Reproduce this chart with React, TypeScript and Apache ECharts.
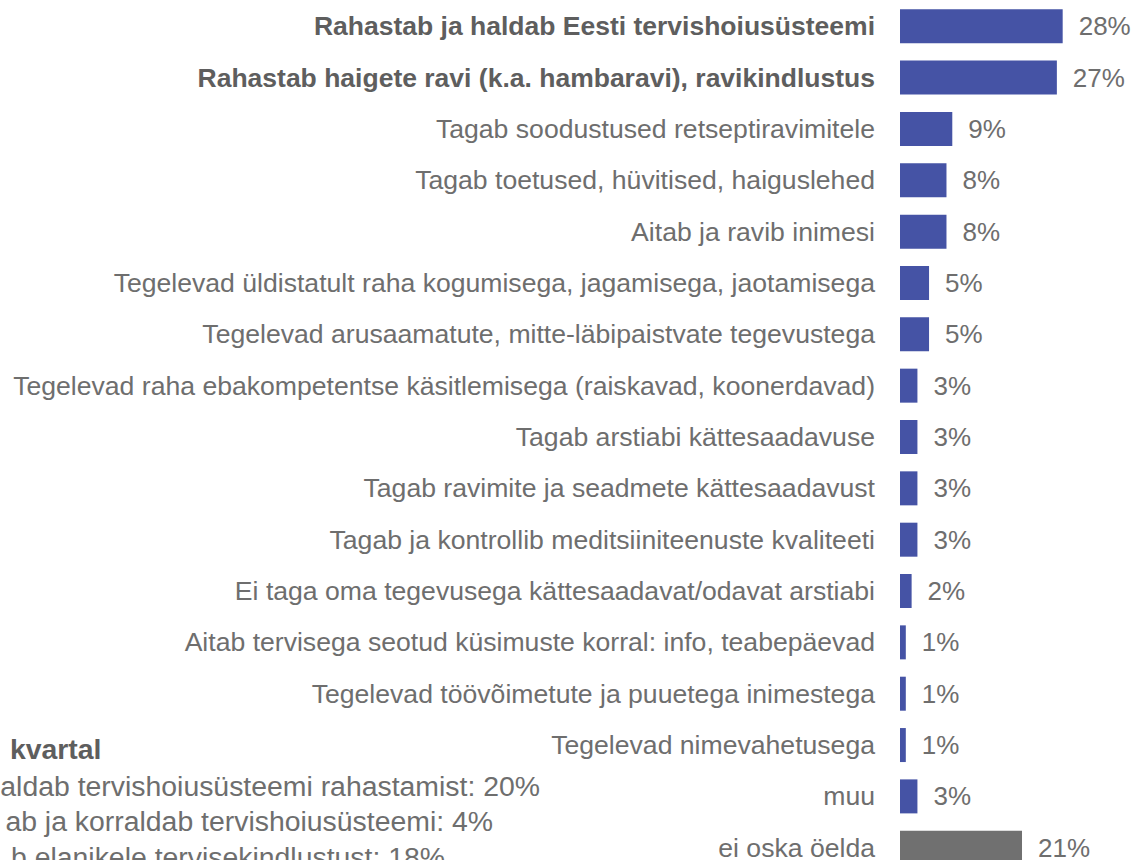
import React, { useEffect, useRef } from "react";
import * as echarts from "echarts";

const categories = [
  "Rahastab ja haldab Eesti tervishoiusüsteemi",
  "Rahastab haigete ravi (k.a. hambaravi), ravikindlustus",
  "Tagab soodustused retseptiravimitele",
  "Tagab toetused, hüvitised, haiguslehed",
  "Aitab ja ravib inimesi",
  "Tegelevad üldistatult raha kogumisega, jagamisega, jaotamisega",
  "Tegelevad arusaamatute, mitte-läbipaistvate tegevustega",
  "Tegelevad raha ebakompetentse käsitlemisega (raiskavad, koonerdavad)",
  "Tagab arstiabi kättesaadavuse",
  "Tagab ravimite ja seadmete kättesaadavust",
  "Tagab ja kontrollib meditsiiniteenuste kvaliteeti",
  "Ei taga oma tegevusega kättesaadavat/odavat arstiabi",
  "Aitab tervisega seotud küsimuste korral: info, teabepäevad",
  "Tegelevad töövõimetute ja puuetega inimestega",
  "Tegelevad nimevahetusega",
  "muu",
  "ei oska öelda",
];

const values = [28, 27, 9, 8, 8, 5, 5, 3, 3, 3, 3, 2, 1, 1, 1, 3, 21];

const boldCategories = [
  "Rahastab ja haldab Eesti tervishoiusüsteemi",
  "Rahastab haigete ravi (k.a. hambaravi), ravikindlustus",
];
const grayCategories = ["ei oska öelda"];

const noteTitle = "kvartal";
const noteLines = [
  "aldab tervishoiusüsteemi rahastamist: 20%",
  "ab ja korraldab tervishoiusüsteemi: 4%",
  "b elanikele tervisekindlustust: 18%",
];

const FONT = "'Liberation Sans', Arial, sans-serif";
const BLUE = "#4553A5";
const GRAY = "#707070";
const TEXT = "#6e6e6e";
const TEXT_BOLD = "#5e5e5e";

export default function App() {
  const ref = useRef<HTMLDivElement>(null);

  useEffect(() => {
    if (!ref.current) return;
    const chart = echarts.init(ref.current, undefined, { renderer: "svg" });

    const noteRight = [101.5, 540, 493, 445];
    const noteMid = [749, 786, 821, 857];

    const graphics: any[] = [
      {
        type: "text",
        x: noteRight[0],
        y: noteMid[0],
        style: {
          text: noteTitle,
          align: "right",
          verticalAlign: "middle",
          fontFamily: FONT,
          fontSize: 28.4,
          fontWeight: "bold",
          fill: TEXT_BOLD,
        },
      },
      ...noteLines.map((t, i) => ({
        type: "text",
        x: noteRight[i + 1],
        y: noteMid[i + 1],
        style: {
          text: t,
          align: "right",
          verticalAlign: "middle",
          fontFamily: FONT,
          fontSize: 28.4,
          fill: TEXT,
        },
      })),
    ];

    chart.setOption({
      animation: false,
      textStyle: { fontFamily: FONT },
      grid: { left: 900, right: 3.6, top: 0.6, bottom: 0.6, containLabel: false },
      xAxis: {
        type: "value",
        min: 0,
        max: 40,
        show: false,
      },
      yAxis: {
        type: "category",
        inverse: true,
        data: categories.map((c) =>
          boldCategories.includes(c)
            ? { value: c, textStyle: { fontWeight: "bold", color: TEXT_BOLD, fontSize: 26.5 } }
            : c
        ),
        axisLine: { show: false },
        axisTick: { show: false },
        splitLine: { show: false },
        axisLabel: {
          margin: 25,
          fontSize: 26.6,
          color: TEXT,
          fontFamily: FONT,
          interval: 0,
        },
      },
      series: [
        {
          type: "bar",
          barWidth: 34,
          data: values.map((v, i) => ({
            value: v,
            itemStyle: { color: grayCategories.includes(categories[i]) ? GRAY : BLUE },
          })),
          label: {
            show: true,
            position: "right",
            distance: 16,
            formatter: "{c}%",
            fontSize: 26,
            color: TEXT,
            fontFamily: FONT,
          },
        },
      ],
      graphic: graphics,
    });

    return () => chart.dispose();
  }, []);

  return (
    <div
      style={{
        position: "fixed",
        left: 0,
        top: 0,
        width: 1136,
        height: 860,
        overflow: "hidden",
        background: "#fff",
      }}
    >
      <div ref={ref} style={{ width: 1136, height: 874 }} />
    </div>
  );
}
